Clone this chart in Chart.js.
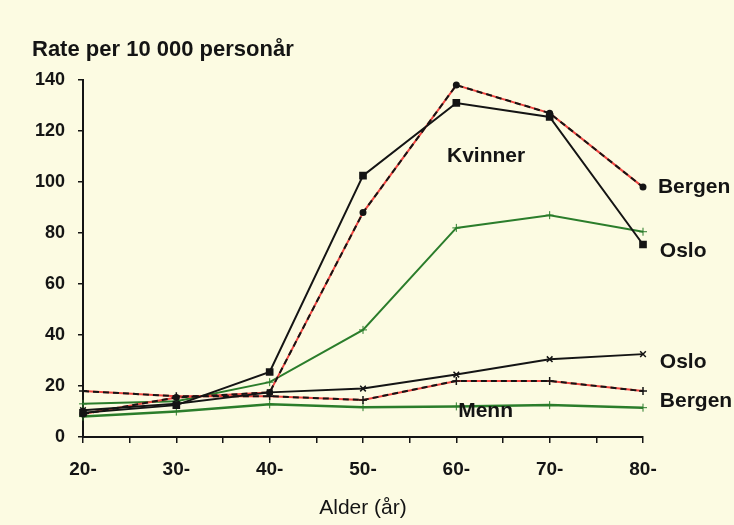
<!DOCTYPE html>
<html>
<head>
<meta charset="utf-8">
<script src="https://cdn.jsdelivr.net/npm/chart.js@4/dist/chart.umd.min.js"></script>
<style>
    html, body { margin: 0; padding: 0; background: #fcfbe2; }
    #wrap { width: 734px; height: 525px; }
</style>
</head>
<body>
<div id="wrap"><canvas id="rateChart" width="734" height="525"></canvas></div>
<script>
// ==========================
// Data
// ==========================

const ages = [20, 30, 40, 50, 60, 70, 80];

const kvinnerOslo   = [9.5, 12.5, 25.5, 102.5, 131, 125.5, 75.5];
const kvinnerBergen = [9, 15.5, 17.5, 88, 138, 127, 98];
const kvinnerGreen  = [13, 14, 21.5, 42, 82, 87, 80.5];

const mennOslo   = [10.5, 13, 17.5, 19, 24.5, 30.5, 32.5];
const mennBergen = [18, 16, 16, 14.5, 22, 22, 18];
const mennGreen  = [8, 10, 12.8, 11.7, 12, 12.5, 11.5];

const yTicks = [0, 20, 40, 60, 80, 100, 120, 140];

const titleText = "Rate per 10 000 personår";
const xTitleText = "Alder (år)";

// ==========================
// Styles
// ==========================

const FONT = "'Liberation Sans', Arial, sans-serif";
const BLACK = "#141414";
const RED = "#f0443f";
const GREEN = "#2b7d2b";
const BG = "#fcfbe2";

const pts = arr => arr.map((v, i) => ({ x: ages[i], y: v }));

// text placed in data units (age, rate)
const annotations = [
    { text: "Kvinner", x: 59.0, y: 110 },
    { text: "Menn", x: 60.2, y: 10.3 },
    { text: "Bergen", x: 81.6, y: 98 },
    { text: "Oslo", x: 81.8, y: 72.8 },
    { text: "Oslo", x: 81.8, y: 29.5 },
    { text: "Bergen", x: 81.8, y: 14 }
];

// ==========================
// Plugins
// ==========================

const background = {
    id: "background",
    beforeDraw(chart) {
        const ctx = chart.ctx;
        ctx.save();
        ctx.fillStyle = BG;
        ctx.fillRect(0, 0, chart.width, chart.height);
        ctx.restore();
    }
};

const texts = {
    id: "texts",
    afterDraw(chart) {
        const ctx = chart.ctx;
        const xs = chart.scales.x;
        const ys = chart.scales.y;
        ctx.save();
        ctx.fillStyle = BLACK;
        ctx.textBaseline = "middle";
        ctx.textAlign = "left";

        ctx.font = "bold 22px " + FONT;
        ctx.fillText(titleText, 32, 50);

        ctx.font = "bold 21px " + FONT;
        annotations.forEach(a => {
            ctx.fillText(a.text, xs.getPixelForValue(a.x), ys.getPixelForValue(a.y));
        });
        ctx.restore();
    }
};

// ==========================
// Chart
// ==========================

new Chart(document.getElementById("rateChart"), {
    type: "line",
    data: {
        datasets: [
            {
                label: "Kvinner Bergen (dash)",
                data: pts(kvinnerBergen),
                borderColor: BLACK,
                borderWidth: 2,
                borderDash: [6, 4],
                pointStyle: "circle",
                pointRadius: 2.5,
                pointBackgroundColor: BLACK,
                pointBorderColor: BLACK,
                clip: false,
                order: 0
            },
            {
                label: "Kvinner Bergen",
                data: pts(kvinnerBergen),
                borderColor: RED,
                borderWidth: 2,
                pointRadius: 0,
                clip: false,
                order: 1
            },
            {
                label: "Kvinner Oslo",
                data: pts(kvinnerOslo),
                borderColor: BLACK,
                borderWidth: 2,
                pointStyle: "rect",
                pointRadius: 4,
                pointBackgroundColor: BLACK,
                pointBorderColor: BLACK,
                clip: false,
                order: 0
            },
            {
                label: "Kvinner",
                data: pts(kvinnerGreen),
                borderColor: GREEN,
                borderWidth: 2,
                pointStyle: "cross",
                pointRadius: 4,
                pointBorderWidth: 1,
                pointBorderColor: GREEN,
                clip: false,
                order: 2
            },
            {
                label: "Menn Oslo",
                data: pts(mennOslo),
                borderColor: BLACK,
                borderWidth: 2,
                pointStyle: "crossRot",
                pointRadius: 4,
                pointBorderWidth: 1.5,
                pointBorderColor: BLACK,
                clip: false,
                order: 0
            },
            {
                label: "Menn Bergen (dash)",
                data: pts(mennBergen),
                borderColor: BLACK,
                borderWidth: 2,
                borderDash: [6, 4],
                pointStyle: "cross",
                pointRadius: 4,
                pointBorderWidth: 1.5,
                pointBorderColor: BLACK,
                clip: false,
                order: 0
            },
            {
                label: "Menn Bergen",
                data: pts(mennBergen),
                borderColor: RED,
                borderWidth: 2,
                pointRadius: 0,
                clip: false,
                order: 1
            },
            {
                label: "Menn",
                data: pts(mennGreen),
                borderColor: GREEN,
                borderWidth: 2.5,
                pointStyle: "cross",
                pointRadius: 4,
                pointBorderWidth: 1,
                pointBorderColor: GREEN,
                clip: false,
                order: 2
            }
        ]
    },
    options: {
        responsive: false,
        animation: false,
        layout: {
            padding: { left: 30, right: 91, top: 80, bottom: 4 }
        },
        plugins: {
            legend: { display: false },
            tooltip: { enabled: false },
            title: { display: false }
        },
        scales: {
            x: {
                type: "linear",
                min: 20,
                max: 80,
                border: { display: true, color: BLACK, width: 2 },
                grid: {
                    display: true,
                    drawOnChartArea: false,
                    drawTicks: true,
                    tickLength: 6,
                    color: BLACK,
                    lineWidth: 1.5
                },
                ticks: {
                    stepSize: 5,
                    autoSkip: false,
                    maxRotation: 0,
                    padding: 15,
                    color: BLACK,
                    font: { family: FONT, size: 19, weight: "bold" },
                    callback: v => (v % 10 === 0 ? v + "-" : "")
                },
                title: {
                    display: true,
                    text: xTitleText,
                    color: BLACK,
                    font: { family: FONT, size: 21 },
                    padding: { top: 20, bottom: 0 }
                },
                afterFit: s => { s.height = 84; }
            },
            y: {
                min: 0,
                max: 140,
                border: { display: true, color: BLACK, width: 2 },
                grid: {
                    display: true,
                    drawOnChartArea: false,
                    drawTicks: true,
                    tickLength: 5,
                    color: BLACK,
                    lineWidth: 1.5
                },
                afterBuildTicks: s => { s.ticks = yTicks.map(v => ({ value: v })); },
                ticks: {
                    padding: 13,
                    color: BLACK,
                    font: { family: FONT, size: 18, weight: "bold" }
                },
                afterFit: s => { s.width = 53; }
            }
        }
    },
    plugins: [background, texts]
});
</script>
</body>
</html>
